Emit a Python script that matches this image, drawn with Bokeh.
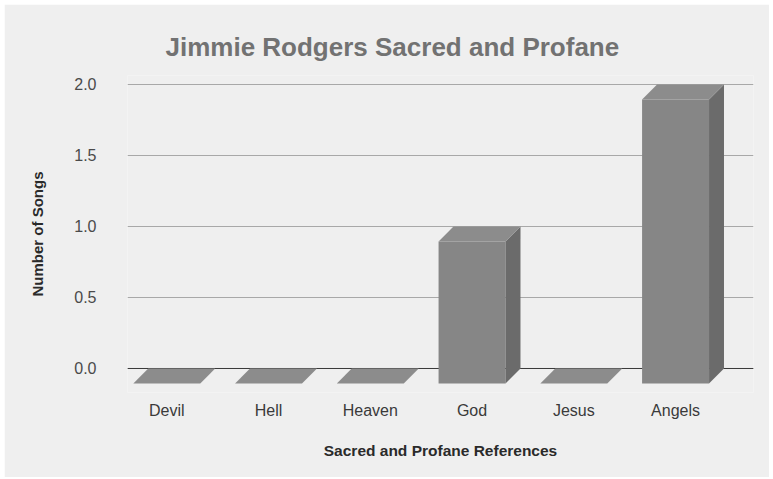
from bokeh.plotting import figure
from bokeh.models import Range1d, FixedTicker, Span
from bokeh.embed import file_html
from bokeh.resources import INLINE

# Count of songs that mention each sacred / profane reference
references = ["Devil", "Hell", "Heaven", "God", "Jesus", "Angels"]
song_counts = [0, 0, 0, 1, 0, 2]
y_ticks = [0.0, 0.5, 1.0, 1.5, 2.0]

# Pseudo-3D bar geometry (data units)
HALF_W = 0.329   # half width of a bar's front face
DEPTH_X = 0.147  # horizontal depth shift of the back plane
DEPTH_Y = 0.106  # vertical depth shift of the back plane

p = figure(
    width=765, height=473,
    x_range=Range1d(-0.386, 5.766),
    y_range=Range1d(-0.169, 2.063),
    output_backend="svg", toolbar_location=None,
    min_border_left=123, min_border_right=16,
    min_border_top=71, min_border_bottom=85,
    background_fill_color="#efefef", border_fill_color="#efefef",
    outline_line_color=None,
    title="Jimmie Rodgers Sacred and Profane",
)
p.margin = (4, 4, 2, 4)

p.title.text_font = "Liberation Sans"
p.title.text_font_size = "26px"
p.title.text_font_style = "bold"
p.title.text_color = "#727272"
p.title.align = "left"
p.title.offset = 38
p.title.standoff = 27

# Gridlines on the back wall
p.xgrid.visible = False
p.ygrid.ticker = FixedTicker(ticks=y_ticks)
p.ygrid.grid_line_color = "#a8a8a8"
p.ygrid.grid_line_width = 1
p.add_layout(Span(location=0, dimension="width", line_color="#3a3a3a",
                  line_width=1, level="underlay"))

# Faces of each bar
front_xs, front_ys, side_xs, side_ys, top_xs, top_ys = [], [], [], [], [], []
for i, v in enumerate(song_counts):
    l, r = i - HALF_W, i + HALF_W
    b, t = -DEPTH_Y, v - DEPTH_Y
    front_xs.append([l, r, r, l])
    front_ys.append([b, b, t, t])
    side_xs.append([r, r + DEPTH_X, r + DEPTH_X, r])
    side_ys.append([b, 0, v, t])
    top_xs.append([l, r, r + DEPTH_X, l + DEPTH_X])
    top_ys.append([t, t, v, v])

p.patches(front_xs, front_ys, fill_color="#868686", line_color=None)
p.patches(side_xs, side_ys, fill_color="#6b6b6b", line_color=None)
p.patches(top_xs, top_ys, fill_color="#8c8c8c", line_color=None)

# Axes
p.xaxis.ticker = FixedTicker(ticks=list(range(len(references))))
p.xaxis.major_label_overrides = {i: name for i, name in enumerate(references)}
p.xaxis.axis_label = "Sacred and Profane References"
p.yaxis.ticker = FixedTicker(ticks=y_ticks)
p.yaxis.major_label_overrides = {t: f"{t:.1f}" for t in y_ticks}
p.yaxis.axis_label = "Number of Songs"

for ax in (p.xaxis[0], p.yaxis[0]):
    ax.axis_line_color = None
    ax.major_tick_line_color = None
    ax.minor_tick_line_color = None
    ax.major_tick_out = 0
    ax.major_tick_in = 0
    ax.major_label_text_font = "Liberation Sans"
    ax.major_label_text_font_size = "16px"
    ax.axis_label_text_font = "Liberation Sans"
    ax.axis_label_text_font_style = "bold"
    ax.axis_label_text_color = "#2a2a2a"

p.xaxis.major_label_text_color = "#3a3a3a"
p.xaxis.major_label_standoff = 9
p.xaxis.axis_label_text_font_size = "15.5px"
p.xaxis.axis_label_standoff = 20

p.yaxis.major_label_text_color = "#4a4a4a"
p.yaxis.major_label_standoff = 31
p.yaxis.axis_label_text_font_size = "15px"
p.yaxis.axis_label_standoff = 25

open("out.html", "w").write(file_html(p, INLINE))
